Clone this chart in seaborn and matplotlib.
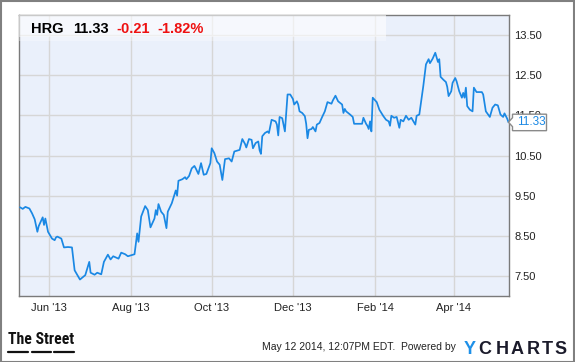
import numpy as np
import pandas as pd
import matplotlib
matplotlib.use("Agg")
import matplotlib.pyplot as plt
import matplotlib.dates as mdates
from matplotlib import font_manager
from matplotlib.patches import Rectangle, Polygon
from matplotlib.lines import Line2D
import seaborn as sns

# ---------------- data ----------------
ticker = "HRG"
last_price = 11.33
change_abs = "-0.21"
change_pct = "-1.82%"
stamp = "May 12 2014, 12:07PM EDT.  Powered by"

start_date = "2013-06-01"
day_offsets = [
    -22, -20, -18, -15, -13, -11, -9, -8, -5, -4,
    -3, -1, 2, 4, 5, 6, 9, 11, 14, 17,
    19, 23, 27, 30, 31, 34, 36, 39, 41, 44,
    46, 48, 52, 54, 57, 59, 64, 66, 67, 69,
    72, 74, 76, 79, 80, 81, 82, 84, 86, 88,
    89, 92, 94, 95, 96, 97, 100, 102, 103, 105,
    107, 109, 110, 112, 114, 116, 118, 121, 122, 124,
    126, 128, 130, 132, 135, 137, 139, 143, 145, 147,
    148, 150, 152, 153, 155, 157, 158, 159, 160, 162,
    164, 165, 167, 170, 171, 172, 173, 175, 177, 179,
    181, 183, 184, 186, 187, 188, 190, 192, 193, 194,
    195, 197, 198, 200, 201, 203, 205, 207, 209, 212,
    213, 215, 217, 220, 221, 222, 223, 226, 228, 229,
    232, 235, 236, 238, 239, 240, 241, 242, 243, 246,
    248, 251, 253, 255, 256, 257, 259, 261, 263, 264,
    266, 268, 270, 272, 275, 276, 278, 281, 283, 285,
    286, 288, 290, 292, 293, 294, 296, 298, 299, 300,
    302, 303, 305, 306, 308, 310, 311, 312, 313, 314,
    316, 318, 319, 321, 325, 326, 328, 331, 333, 335,
    337, 339, 341, 342, 344, 345,
]
prices = [
    9.21, 9.17, 9.22, 9.18, 9.06, 8.91, 8.60, 8.74, 8.96, 8.77,
    8.93, 8.60, 8.43, 8.39, 8.46, 8.48, 8.43, 8.21, 8.22, 8.21,
    7.64, 7.41, 7.52, 7.85, 7.58, 7.53, 7.58, 7.54, 7.85, 8.03,
    7.91, 7.99, 7.93, 8.08, 8.04, 7.99, 8.04, 8.56, 8.35, 8.98,
    9.24, 9.14, 8.71, 8.93, 9.14, 9.02, 9.29, 9.10, 9.02, 8.69,
    9.10, 9.31, 9.52, 9.63, 9.50, 9.87, 9.91, 9.96, 9.91, 9.99,
    10.18, 10.24, 10.18, 10.04, 10.31, 10.02, 10.04, 10.31, 10.68, 10.56,
    10.35, 10.27, 9.89, 10.41, 10.43, 10.35, 10.60, 10.64, 10.91, 10.79,
    10.70, 10.91, 10.89, 10.68, 10.81, 10.85, 10.63, 10.54, 10.98, 11.06,
    11.10, 11.06, 11.39, 11.35, 11.27, 11.00, 11.46, 11.43, 11.10, 12.02,
    12.02, 11.91, 11.77, 11.85, 11.77, 11.60, 11.56, 11.48, 11.29, 10.93,
    11.14, 11.16, 11.21, 11.10, 11.27, 11.31, 11.46, 11.60, 11.83, 11.79,
    11.87, 11.99, 11.85, 11.77, 11.56, 11.66, 11.60, 11.52, 11.46, 11.29,
    11.29, 11.29, 11.44, 11.29, 11.24, 11.16, 11.35, 11.10, 11.94, 11.83,
    11.64, 11.48, 11.39, 11.35, 11.24, 11.49, 11.44, 11.46, 11.19, 11.39,
    11.35, 11.49, 11.39, 11.44, 11.27, 11.49, 11.52, 12.23, 12.77, 12.90,
    12.80, 12.91, 13.06, 12.83, 12.90, 12.46, 12.39, 12.33, 12.21, 11.98,
    12.10, 12.31, 12.43, 12.35, 12.10, 11.94, 12.06, 11.94, 12.19, 11.73,
    11.64, 11.60, 12.19, 12.08, 12.08, 12.02, 11.60, 11.46, 11.69, 11.77,
    11.75, 11.52, 11.46, 11.55, 11.42, 11.33,
]
x_tick_dates = ["2013-06-01", "2013-08-01", "2013-10-01",
                "2013-12-01", "2014-02-01", "2014-04-01"]
x_tick_labels = ["Jun '13", "Aug '13", "Oct '13", "Dec '13", "Feb '14", "Apr '14"]
y_ticks = [7.5, 8.5, 9.5, 10.5, 11.5, 12.5, 13.5]
y_tick_labels = ["7.50", "8.50", "9.50", "10.50", "11.50", "12.50", "13.50"]

# ---------------- figure ----------------
sns.set_theme(style="white")
plt.rcParams["font.family"] = ["Liberation Sans", "DejaVu Sans"]

W, H = 575, 362
fig = plt.figure(figsize=(W / 100, H / 100), dpi=100)
fig.patch.set_facecolor("white")

def fx(px):
    return px / W

def fy(py):
    return 1 - py / H

ax_l, ax_r, ax_t, ax_b = 19, 509, 15, 296
ax = fig.add_axes([fx(ax_l), fy(ax_b), (ax_r - ax_l) / W, (ax_b - ax_t) / H])
ax.set_facecolor("#eaf0fb")

df = pd.DataFrame({
    "date": pd.Timestamp(start_date) + pd.to_timedelta(day_offsets, unit="D"),
    "price": prices,
})

sns.lineplot(data=df, x="date", y="price", ax=ax, color="#1a88e4",
             linewidth=1.25, zorder=5)

x0 = mdates.date2num(pd.Timestamp(start_date))
ax.set_xlim(x0 - 22.8, x0 + 345.4)
ax.set_ylim(7.0, 14.0)

ax.set_xticks([mdates.date2num(pd.Timestamp(d)) for d in x_tick_dates])
ax.set_xticklabels(x_tick_labels)
ax.set_yticks(y_ticks)
ax.set_yticklabels(y_tick_labels)
ax.yaxis.tick_right()
ax.tick_params(axis="both", length=0, labelsize=8, colors="#222222")
ax.tick_params(axis="y", pad=4)
ax.tick_params(axis="x", pad=5)
ax.set_xlabel("")
ax.set_ylabel("")
ax.grid(True, color="#d6d6d6", linewidth=1.0)
ax.set_axisbelow(True)
for s in ax.spines.values():
    s.set_visible(True)
    s.set_color("#7a7a7a")
    s.set_linewidth(1.0)

# header band (semi-transparent white)
band_w = (386 - ax_l) / (ax_r - ax_l)
ax.add_patch(Rectangle((0, (ax_b - 37) / (ax_b - ax_t)), band_w, (37 - ax_t) / (ax_b - ax_t),
                       transform=ax.transAxes, facecolor="white", alpha=0.6,
                       edgecolor="none", zorder=3))
ax.add_patch(Rectangle((0, (ax_b - 41) / (ax_b - ax_t)), band_w, 4 / (ax_b - ax_t),
                       transform=ax.transAxes, facecolor="white", alpha=0.3,
                       edgecolor="none", zorder=3))

# header texts
hdr_y = fy(33.3)
fig.text(fx(30.5), hdr_y, ticker, fontsize=10.5, fontweight="bold", color="black", va="baseline")
fig.text(fx(73.5), hdr_y, f"{last_price:.2f}", fontsize=10.5, fontweight="bold", color="black", va="baseline")
fig.text(fx(116.5), hdr_y, change_abs, fontsize=10.5, fontweight="bold", color="#ee1111", va="baseline")
fig.text(fx(157.5), hdr_y, change_pct, fontsize=10.5, fontweight="bold", color="#ee1111", va="baseline")

# last price flag on the right axis
lp_y = ax.transData.transform((0, last_price))[1]
lp_py = H - lp_y
tip_x = 508.5
box_l, box_r = 512.5, 546.5
poly = Polygon([(fx(tip_x), fy(lp_py)), (fx(box_l), fy(lp_py - 4.5)), (fx(box_l), fy(lp_py - 8)),
                (fx(box_r), fy(lp_py - 8)), (fx(box_r), fy(lp_py + 8.5)), (fx(box_l), fy(lp_py + 8.5)),
                (fx(box_l), fy(lp_py + 4.5))],
               closed=True, transform=fig.transFigure, facecolor="white",
               edgecolor="#8a8a8a", linewidth=1.0, zorder=10)
fig.patches.append(poly)
fig.text(fx(517), fy(lp_py), f"{last_price:.2f}", fontsize=8.5, color="#1a88e4",
         va="center", ha="left", zorder=11)

# footer: The Street (condensed bold font if one is installed)
available = {f.name for f in font_manager.fontManager.ttflist}
narrow = "DejaVu Sans"
for cand in ["Liberation Sans Narrow", "Roboto Condensed", "Noto Sans Condensed",
             "Open Sans Condensed", "DejaVu Sans Condensed"]:
    if cand in available:
        narrow = cand
        break
street = fig.text(fx(8), fy(344.5), "The Street", fontsize=13, fontweight="bold",
                  family=[narrow, "DejaVu Sans"], fontstretch="condensed",
                  color="#111111", va="baseline")
fig.canvas.draw()
bb = street.get_window_extent()
if bb.width > 0:
    street.set_fontsize(13 * min(1.0, 66.0 / bb.width))
for a, b in [(8.3, 28.3), (31.7, 50.5), (54, 74)]:
    fig.lines.append(Line2D([fx(a), fx(b)], [fy(351.5), fy(351.5)], transform=fig.transFigure,
                            color="#111111", linewidth=1.6))

# footer: timestamp + YCHARTS
fig.text(fx(262.5), fy(350), stamp, fontsize=7.5, color="#222222", va="baseline")
letters = ["Y", "C", "H", "A", "R", "T", "S"]
lx = [463.5, 478, 495.5, 510.5, 527, 542, 554.5]
for ch, x in zip(letters, lx):
    fig.text(fx(x), fy(354), ch, fontsize=13, fontweight="bold",
             color="#1e90e8" if ch == "Y" else "#1b1b2b", va="baseline")

# outer border
fig.patches.append(Rectangle((0.5 / W, 0.5 / H), 1 - 1.5 / W, 1 - 1.5 / H, transform=fig.transFigure,
                             fill=False, edgecolor="#808080", linewidth=1.5, zorder=20))

fig.savefig("out.png", dpi=100)
